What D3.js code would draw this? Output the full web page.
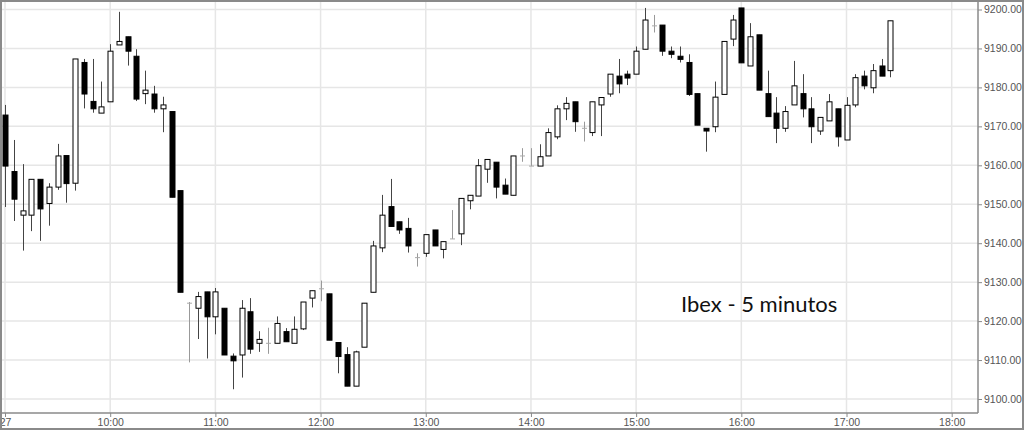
<!DOCTYPE html>
<html>
<head>
<meta charset="utf-8">
<script src="https://cdn.jsdelivr.net/npm/d3@7"></script>
<style>
  body { margin: 0; background: #fff; }
  svg { display: block; }
</style>
</head>
<body>
<svg id="chart" width="1024" height="430"></svg>
<script>
// Ibex 35, 5 minute candles, 9:00 - 17:25
let opens = [9172.9, 9158.4, 9147.2, 9147.2, 9156.4, 9150.2, 9154.4, 9162.5, 9155.4, 9186.4,
  9176.4, 9173.4, 9176.3, 9190.9, 9193.0, 9188.0, 9178.4, 9178.3, 9174.5, 9173.8,
  9153.5, 9124.6, 9123.3, 9127.5, 9121.1, 9123.3, 9111.0, 9111.3, 9122.4, 9114.3,
  9114.3, 9114.3, 9117.3, 9114.3, 9118.0, 9125.9, 9128.3, 9127.0, 9114.5, 9111.4,
  9103.3, 9113.3, 9127.4, 9138.8, 9149.4, 9145.5, 9143.8, 9136.3, 9137.4, 9143.4,
  9138.4, 9141.1, 9142.4, 9150.9, 9152.1, 9159.0, 9160.8, 9154.9, 9152.3, 9162.4,
  9159.8, 9159.8, 9162.4, 9167.3, 9174.5, 9176.3, 9169.5, 9168.4, 9175.5, 9178.3,
  9182.9, 9183.4, 9183.4, 9189.8, 9195.8, 9196.0, 9189.3, 9188.0, 9186.4, 9178.4,
  9169.5, 9169.9, 9178.2, 9192.4, 9200.4, 9185.5, 9193.5, 9178.4, 9173.4, 9169.5,
  9175.5, 9178.4, 9174.5, 9168.8, 9171.4, 9174.5, 9166.5, 9175.5, 9182.9, 9179.9,
  9185.5, 9184.3]
let highs = [9175.5, 9166.5, 9160.3, 9156.4, 9156.4, 9155.4, 9165.5, 9162.5, 9187.3, 9187.3,
  9187.3, 9181.5, 9191.1, 9199.4, 9193.0, 9189.8, 9184.3, 9180.4, 9177.6, 9173.8,
  9153.5, 9124.9, 9127.5, 9127.5, 9128.5, 9123.3, 9111.7, 9125.4, 9125.9, 9117.4,
  9118.3, 9121.2, 9118.2, 9121.2, 9124.9, 9127.8, 9130.4, 9127.0, 9114.5, 9113.3,
  9112.4, 9124.6, 9140.6, 9152.4, 9156.5, 9145.5, 9146.5, 9137.4, 9142.2, 9143.4,
  9140.4, 9148.5, 9151.5, 9152.3, 9161.6, 9161.5, 9160.8, 9156.6, 9162.4, 9164.4,
  9164.4, 9165.4, 9169.5, 9175.4, 9177.5, 9176.3, 9171.2, 9176.3, 9177.4, 9183.4,
  9187.3, 9184.3, 9190.5, 9200.4, 9198.6, 9196.0, 9190.5, 9190.5, 9188.5, 9178.4,
  9169.5, 9181.5, 9191.8, 9198.6, 9200.4, 9196.5, 9193.5, 9184.3, 9177.5, 9175.2,
  9186.8, 9183.4, 9177.5, 9172.3, 9178.3, 9174.5, 9177.5, 9183.4, 9184.3, 9186.0,
  9187.3, 9197.1]
let lows = [9149.3, 9145.7, 9138.1, 9143.1, 9140.6, 9144.5, 9153.7, 9150.4, 9153.5, 9174.6,
  9173.5, 9173.4, 9176.3, 9190.9, 9185.6, 9176.5, 9175.7, 9173.5, 9168.5, 9151.8,
  9127.4, 9109.4, 9115.4, 9110.4, 9116.6, 9111.3, 9102.5, 9105.5, 9111.6, 9112.1,
  9111.6, 9114.3, 9114.7, 9114.3, 9117.7, 9123.5, 9125.1, 9115.1, 9106.6, 9103.3,
  9103.3, 9113.3, 9127.4, 9137.7, 9144.3, 9142.4, 9137.6, 9134.0, 9136.5, 9139.3,
  9136.1, 9141.1, 9139.5, 9148.7, 9152.1, 9155.5, 9151.5, 9152.6, 9152.3, 9160.9,
  9159.8, 9159.8, 9162.4, 9166.7, 9171.6, 9168.6, 9166.1, 9167.5, 9167.5, 9177.6,
  9178.5, 9180.6, 9183.4, 9189.8, 9194.1, 9188.1, 9187.5, 9186.4, 9177.8, 9170.3,
  9163.5, 9168.5, 9178.2, 9190.6, 9186.3, 9185.5, 9179.3, 9172.5, 9165.7, 9168.6,
  9175.5, 9172.3, 9165.7, 9167.8, 9171.4, 9164.8, 9166.5, 9174.9, 9179.5, 9178.5,
  9182.9, 9182.6]
let closes = [9159.8, 9151.3, 9148.3, 9156.4, 9148.8, 9154.4, 9162.4, 9155.3, 9187.3, 9178.3,
  9174.5, 9175.0, 9189.3, 9191.8, 9189.3, 9177.0, 9179.3, 9174.5, 9175.5, 9151.8,
  9127.4, 9124.6, 9126.3, 9121.1, 9127.5, 9111.3, 9109.8, 9123.3, 9112.8, 9115.3,
  9114.3, 9119.4, 9114.7, 9117.9, 9124.9, 9127.8, 9128.3, 9115.1, 9110.9, 9103.3,
  9112.1, 9124.6, 9139.3, 9147.2, 9144.3, 9143.4, 9139.3, 9136.3, 9142.2, 9139.3,
  9140.4, 9141.1, 9151.5, 9152.3, 9159.9, 9161.5, 9154.4, 9152.6, 9162.4, 9162.4,
  9159.8, 9162.2, 9168.4, 9174.5, 9175.9, 9171.2, 9169.5, 9176.3, 9177.4, 9183.4,
  9180.9, 9182.4, 9189.3, 9197.3, 9195.8, 9189.3, 9188.5, 9187.2, 9178.2, 9170.3,
  9168.8, 9177.5, 9191.8, 9197.3, 9186.3, 9193.0, 9179.3, 9172.5, 9169.5, 9173.8,
  9180.4, 9174.5, 9169.9, 9172.3, 9176.3, 9167.3, 9175.4, 9182.5, 9180.4, 9184.3,
  9182.9, 9197.1]

let priceTicks = [9100, 9110, 9120, 9130, 9140, 9150, 9160, 9170, 9180, 9190, 9200]
let dayLabel = "27"
let title = "Ibex - 5 minutos"

// one candle every 5 minutes from the open
let startTime = new Date(2015, 0, 27, 9, 0)
let times = d3.timeMinute.every(5).range(startTime, d3.timeMinute.offset(startTime, 5 * opens.length))

let candles = times.map((t, i) => ({
  t: t, o: opens[i], h: highs[i], l: lows[i], c: closes[i]
}))

let svg = d3.select('#chart')
let plotRight = 978, plotBottom = 413

let x = d3.scaleTime()
  .domain([startTime, new Date(2015, 0, 27, 18, 15)])
  .range([5, plotRight])
let y = d3.scaleLinear()
  .domain([9100, 9200])
  .range([399, 9.5])

let hourTicks = d3.timeHour.range(startTime, new Date(2015, 0, 27, 18, 1))

let plot = svg.append('g')

// grid
plot.selectAll('.hgrid')
  .data(priceTicks)
  .enter()
  .append('line')
  .attr('x1', 0).attr('x2', plotRight)
  .attr('y1', d => y(d)).attr('y2', d => y(d))
  .attr('stroke', '#e6e6e6').attr('stroke-width', 1.5)
plot.selectAll('.vgrid')
  .data(hourTicks)
  .enter()
  .append('line')
  .attr('x1', d => x(d)).attr('x2', d => x(d))
  .attr('y1', 0).attr('y2', plotBottom)
  .attr('stroke', '#e6e6e6').attr('stroke-width', 1.5)

// candles
let bodyW = 5
let g = plot.selectAll('.candle')
  .data(candles)
  .enter()
  .append('g')

g.append('line')
  .attr('x1', d => Math.round(x(d.t)) + 0.5).attr('x2', d => Math.round(x(d.t)) + 0.5)
  .attr('y1', d => y(d.h)).attr('y2', d => y(d.l))
  .attr('stroke', d => d.o === d.c ? '#999' : '#444')
  .attr('stroke-width', 1)

g.append('rect')
  .attr('x', d => Math.round(x(d.t)) - bodyW / 2 + 0.5)
  .attr('width', bodyW)
  .attr('y', d => d.o === d.c ? y(d.o) - 0.5 : y(Math.max(d.o, d.c)))
  .attr('height', d => d.o === d.c ? 1 : Math.max(1, y(Math.min(d.o, d.c)) - y(Math.max(d.o, d.c))))
  .attr('fill', d => d.o === d.c ? '#aaa' : (d.c < d.o ? '#000' : '#fff'))
  .attr('stroke', d => d.o === d.c ? 'none' : '#000')
  .attr('stroke-width', 1)

// plot frame
svg.append('line')
  .attr('x1', plotRight).attr('x2', plotRight).attr('y1', 0).attr('y2', plotBottom)
  .attr('stroke', '#8a8a8a').attr('stroke-width', 1.5)
svg.append('line')
  .attr('x1', 0).attr('x2', plotRight).attr('y1', plotBottom).attr('y2', plotBottom)
  .attr('stroke', '#8a8a8a').attr('stroke-width', 1.5)

// axes
let yAxis = d3.axisRight(y)
  .tickValues(priceTicks)
  .tickFormat(d3.format('.2f'))
  .tickSize(4)
  .tickPadding(2)
let ya = svg.append('g')
  .attr('transform', 'translate(' + plotRight + ',0)')
  .call(yAxis)
ya.select('.domain').remove()

let xAxis = d3.axisBottom(x)
  .tickValues(hourTicks)
  .tickFormat(d => d.getHours() === 9 ? dayLabel : d3.timeFormat('%H:%M')(d))
  .tickSize(4)
  .tickPadding(2)
let xa = svg.append('g')
  .attr('transform', 'translate(0,' + plotBottom + ')')
  .call(xAxis)
xa.select('.domain').remove()

svg.selectAll('.tick line').attr('stroke', '#8a8a8a')
svg.selectAll('.tick text')
  .attr('fill', '#555')
  .style('font-family', '"Liberation Sans", Arial, sans-serif')
  .style('font-size', '10.5px')

// title
svg.append('text')
  .attr('x', 681)
  .attr('y', 312)
  .attr('fill', '#111')
  .style('font-family', 'Lato, "Open Sans", sans-serif')
  .style('font-size', '22px')
  .text(title)

// outer border
svg.append('rect')
  .attr('x', 1).attr('y', 1).attr('width', 1022).attr('height', 428)
  .attr('fill', 'none')
  .attr('stroke', '#8a8a8a').attr('stroke-width', 2)
</script>
</body>
</html>
